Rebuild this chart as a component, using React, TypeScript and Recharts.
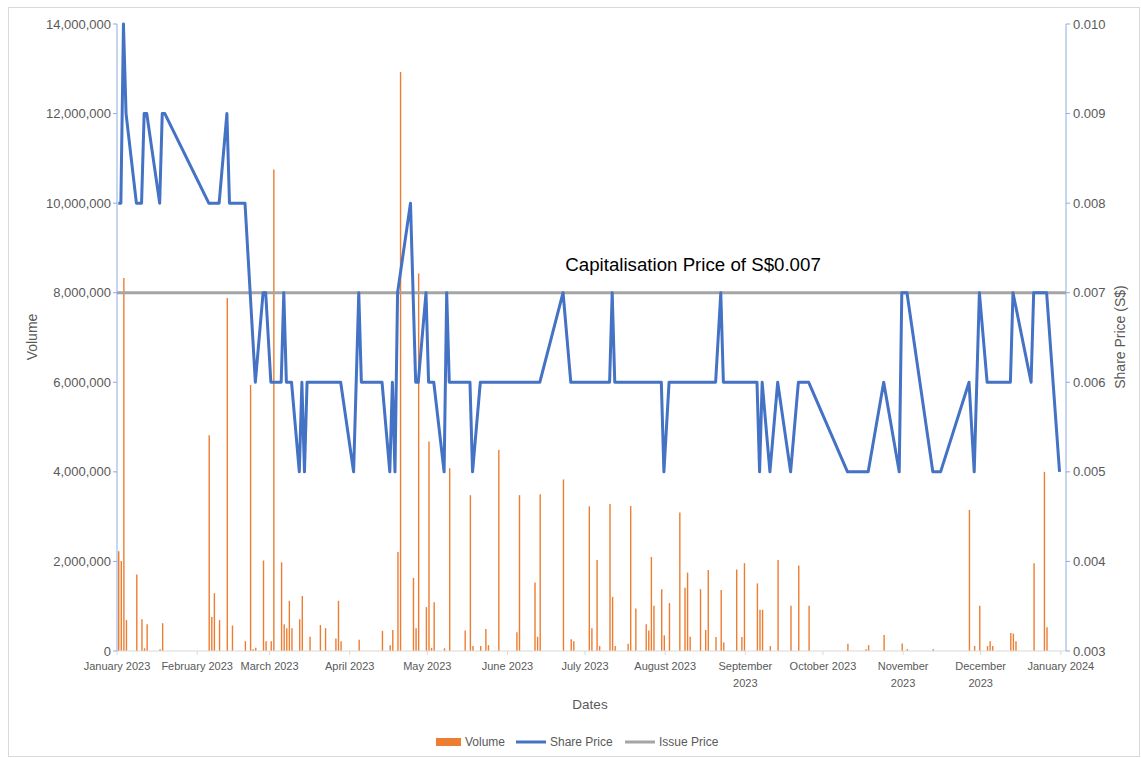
import { ComposedChart, Bar, Line, XAxis, YAxis, ReferenceLine } from "recharts";

const FONT = "'Liberation Sans', Arial, sans-serif";
const TEXT_GREY = "#595959";

// month boundaries on the date axis (days since 1 Jan 2023)
const MONTH_START_DAYS = [0, 31, 59, 90, 120, 151, 181, 212, 243, 273, 304, 334, 365];
const MONTH_LABELS = [
  "January 2023", "February 2023", "March 2023", "April 2023", "May 2023", "June 2023",
  "July 2023", "August 2023", "September 2023", "October 2023", "November 2023",
  "December 2023", "January 2024",
];
const WRAPPED_LABELS = ["September 2023", "November 2023", "December 2023"];

// daily traded volume (days since 1 Jan 2023, millions of shares)
const VOLUME_DAYS = [
  0, 1, 2, 3, 7, 9, 10, 11, 16, 17, 35, 36, 37, 39, 42, 44, 49, 51, 52, 53, 56, 57, 59, 60,
  63, 64, 65, 66, 67, 70, 71, 74, 78, 80, 84, 85, 86, 93, 102, 105, 106, 108, 109, 114, 115,
  116, 119, 120, 121, 122, 126, 128, 134, 136, 137, 140, 142, 143, 147, 154, 155, 161, 162,
  163, 172, 175, 176, 182, 183, 185, 186, 190, 191, 192, 197, 198, 200, 204, 205, 206, 207,
  210, 211, 213, 217, 219, 220, 221, 225, 227, 228, 231, 233, 234, 239, 241, 242, 247, 248,
  249, 252, 255, 260, 263, 267, 282, 289, 290, 296, 303, 305, 315, 329, 331, 333, 336, 337,
  338, 345, 346, 347, 354, 358, 359,
];
const VOLUME_MILLIONS = [
  2.23, 2.01, 8.33, 0.69, 1.71, 0.71, 0.06, 0.6, 0.04, 0.62, 4.82, 0.76, 1.29, 0.69, 7.88, 0.57,
  0.22, 5.94, 0.04, 0.07, 2.02, 0.22, 0.22, 10.75, 1.98, 0.6, 0.51, 1.12, 0.51, 0.71, 1.23, 0.32,
  0.58, 0.51, 0.28, 1.12, 0.22, 0.25, 0.45, 0.13, 0.47, 2.21, 12.93, 1.63, 0.51, 8.43, 0.98, 4.68,
  0.07, 1.09, 0.06, 4.08, 0.46, 3.48, 0.11, 0.11, 0.49, 0.13, 4.49, 0.42, 3.48, 1.53, 0.32, 3.5,
  3.83, 0.26, 0.22, 3.23, 0.51, 2.03, 0.11, 3.28, 1.21, 0.11, 0.16, 3.24, 0.95, 0.6, 0.46, 2.1,
  1.01, 1.38, 0.35, 1.07, 3.09, 1.41, 1.75, 0.32, 1.38, 0.47, 1.81, 0.31, 1.36, 0.19, 1.82, 0.31,
  1.96, 1.51, 0.92, 0.92, 0.11, 2.03, 1.01, 1.91, 1.01, 0.16, 0.04, 0.13, 0.36, 0.17, 0.04, 0.04,
  3.15, 0.11, 1.01, 0.11, 0.22, 0.11, 0.4, 0.39, 0.22, 1.96, 4.0, 0.53,
];

// closing share price (S$) on the days where the line turns
const PRICE_DAYS = [
  0, 1, 2, 3, 7, 9, 10, 11, 16, 17, 18, 35, 39, 42, 43, 49, 53, 56, 57, 59, 63, 64, 65, 67, 70,
  71, 72, 73, 86, 91, 93, 94, 102, 105, 106, 107, 108, 113, 115, 116, 119, 120, 122, 126, 127,
  128, 136, 137, 140, 163, 172, 175, 190, 191, 192, 210, 211, 213, 231, 233, 234, 247, 248, 249,
  252, 255, 260, 263, 267, 282, 290, 296, 302, 303, 305, 315, 318, 329, 331, 333, 336, 345, 346,
  353, 354, 359, 364,
];
const PRICE_VALUES = [
  0.008, 0.008, 0.01, 0.009, 0.008, 0.008, 0.009, 0.009, 0.008, 0.009, 0.009, 0.008, 0.008, 0.009,
  0.008, 0.008, 0.006, 0.007, 0.007, 0.006, 0.006, 0.007, 0.006, 0.006, 0.005, 0.006, 0.005, 0.006,
  0.006, 0.005, 0.007, 0.006, 0.006, 0.005, 0.006, 0.005, 0.007, 0.008, 0.006, 0.006, 0.007, 0.006,
  0.006, 0.005, 0.007, 0.006, 0.006, 0.005, 0.006, 0.006, 0.007, 0.006, 0.006, 0.007, 0.006, 0.006,
  0.005, 0.006, 0.006, 0.007, 0.006, 0.006, 0.005, 0.006, 0.005, 0.006, 0.005, 0.006, 0.006, 0.005,
  0.005, 0.006, 0.005, 0.007, 0.007, 0.005, 0.005, 0.006, 0.005, 0.007, 0.006, 0.006, 0.007, 0.006,
  0.007, 0.007, 0.005,
];

const ISSUE_PRICE = 0.007;
const VOLUME_TICKS = [0, 2000000, 4000000, 6000000, 8000000, 10000000, 12000000, 14000000];
const PRICE_TICKS = [0.003, 0.004, 0.005, 0.006, 0.007, 0.008, 0.009, 0.01];

type Row = { x: number; volume?: number; price?: number };

const buildRows = (): Row[] => {
  const byDay = new Map<number, Row>();
  const get = (d: number) => {
    if (!byDay.has(d)) byDay.set(d, { x: d + 0.5 }); // each date sits in the middle of its day slot
    return byDay.get(d)!;
  };
  VOLUME_DAYS.forEach((d, i) => (get(d).volume = VOLUME_MILLIONS[i] * 1000000));
  PRICE_DAYS.forEach((d, i) => (get(d).price = PRICE_VALUES[i]));
  return Array.from(byDay.values()).sort((a, b) => a.x - b.x);
};

const rows = buildRows();

const DateTick = (props: any) => {
  const { x, y, payload } = props;
  const label = MONTH_LABELS[MONTH_START_DAYS.indexOf(payload.value)] ?? "";
  const lines = WRAPPED_LABELS.includes(label) ? label.split(" ") : [label];
  return (
    <text x={x} y={y} textAnchor="middle" fill={TEXT_GREY} fontSize={11} fontFamily={FONT}>
      {lines.map((l, i) => (
        <tspan key={i} x={x} dy={i === 0 ? 13 : 17}>
          {l}
        </tspan>
      ))}
    </text>
  );
};

const CapLabel = (props: any) => {
  const { viewBox } = props;
  return (
    <text
      x={viewBox.x + viewBox.width * 0.607}
      y={viewBox.y - 22}
      textAnchor="middle"
      fill="#000"
      fontSize={18.7}
      fontFamily={FONT}
    >
      Capitalisation Price of S$0.007
    </text>
  );
};

const LEGEND = [
  { name: "Volume", kind: "rect", color: "#ED7D31" },
  { name: "Share Price", kind: "line", color: "#4472C4" },
  { name: "Issue Price", kind: "line", color: "#A5A5A5" },
];

const App = () => {
  return (
    <div style={{ position: "absolute", left: 0, top: 0, width: 1141, height: 758, background: "#fff" }}>
      <div
        style={{
          position: "absolute",
          left: 8,
          top: 7,
          width: 1132,
          height: 750,
          border: "1px solid #d9d9d9",
          boxSizing: "border-box",
        }}
      />
      <ComposedChart
        width={1141}
        height={758}
        data={rows}
        margin={{ top: 24, right: 0, bottom: 0, left: 0 }}
        style={{ position: "absolute", left: 0, top: 0 }}
      >
        <XAxis
          dataKey="x"
          type="number"
          domain={[0, 367]}
          ticks={MONTH_START_DAYS}
          interval={0}
          height={107}
          tick={<DateTick />}
          tickSize={4}
          tickMargin={2}
          axisLine={{ stroke: "#d9d9d9" }}
          tickLine={{ stroke: "#d9d9d9" }}
        />
        <YAxis
          yAxisId="volume"
          orientation="left"
          width={117}
          domain={[0, 14000000]}
          ticks={VOLUME_TICKS}
          interval={0}
          tickFormatter={(v: number) => v.toLocaleString("en-US")}
          tick={{ fill: TEXT_GREY, fontSize: 13, fontFamily: FONT }}
          tickSize={4}
          tickMargin={2}
          axisLine={{ stroke: "#8faadc" }}
          tickLine={{ stroke: "#8faadc" }}
        />
        <YAxis
          yAxisId="price"
          orientation="right"
          width={75}
          domain={[0.003, 0.01]}
          ticks={PRICE_TICKS}
          interval={0}
          tickFormatter={(v: number) => v.toFixed(3)}
          tick={{ fill: TEXT_GREY, fontSize: 13, fontFamily: FONT, textAnchor: "start" }}
          tickSize={4}
          tickMargin={3}
          axisLine={{ stroke: "#8faadc" }}
          tickLine={{ stroke: "#8faadc" }}
        />
        <Bar yAxisId="volume" dataKey="volume" name="Volume" fill="#ED7D31" barSize={1.4} isAnimationActive={false} />
        <ReferenceLine
          yAxisId="price"
          y={ISSUE_PRICE}
          stroke="#A5A5A5"
          strokeWidth={3}
          label={<CapLabel />}
        />
        <Line
          yAxisId="price"
          dataKey="price"
          name="Share Price"
          stroke="#4472C4"
          strokeWidth={3}
          strokeLinejoin="round"
          dot={false}
          activeDot={false}
          connectNulls
          type="linear"
          isAnimationActive={false}
        />
      </ComposedChart>
      <svg
        width={1141}
        height={758}
        style={{ position: "absolute", left: 0, top: 0, pointerEvents: "none" }}
        fontFamily={FONT}
      >
        <text x={33} y={337} transform="rotate(-90 33 337)" textAnchor="middle" dominantBaseline="middle" fill={TEXT_GREY} fontSize={14}>
          Volume
        </text>
        <text x={1121} y={337} transform="rotate(-90 1121 337)" textAnchor="middle" dominantBaseline="middle" fill={TEXT_GREY} fontSize={14}>
          Share Price (S$)
        </text>
        <text x={590} y={709} textAnchor="middle" fill={TEXT_GREY} fontSize={13.5}>
          Dates
        </text>
        {LEGEND.map((item, i) => {
          const starts = [436, 516, 625];
          const x0 = starts[i];
          return (
            <g key={item.name}>
              {item.kind === "rect" ? (
                <rect x={x0} y={738} width={25} height={8} fill={item.color} />
              ) : (
                <line x1={x0} x2={x0 + 30} y1={742} y2={742} stroke={item.color} strokeWidth={3} />
              )}
              <text x={x0 + (item.kind === "rect" ? 29 : 34)} y={746} fill={TEXT_GREY} fontSize={12}>
                {item.name}
              </text>
            </g>
          );
        })}
      </svg>
    </div>
  );
};

export default App;
